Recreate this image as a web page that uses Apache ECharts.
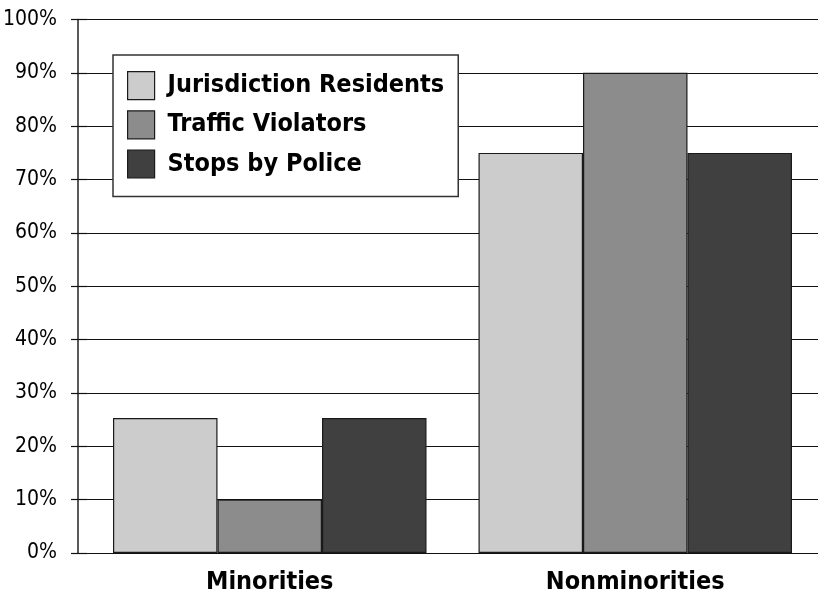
<!DOCTYPE html>
<html>
<head>
<meta charset="utf-8">
<script src="https://cdn.jsdelivr.net/npm/echarts@6/dist/echarts.min.js"></script>
<style>
html,body{margin:0;padding:0;background:#fff;}
#chart{width:818px;height:597px;}
</style>
</head>
<body>
<div id="chart"></div>
<script>
var categories = ['Minorities', 'Nonminorities'];
var seriesNames = ['Jurisdiction Residents', 'Traffic Violators', 'Stops by Police'];
var residents = [25.3, 75];
var violators = [10, 90];
var stops = [25.3, 75];
var colors = ['#cccccc', '#8c8c8c', '#404040'];
var FONT = "'Liberation Sans Narrow', 'DejaVu Sans Condensed', sans-serif";

var chart = echarts.init(document.getElementById('chart'));
var values = [residents, violators, stops];
var series = seriesNames.map(function (n, i) {
  return {
    name: n,
    type: 'bar',
    data: values[i],
    barWidth: 104.5,
    barGap: '0%',
    itemStyle: { color: colors[i], borderColor: '#1a1a1a', borderWidth: 1.2 },
    emphasis: { disabled: true }
  };
});

chart.setOption({
  animation: false,
  backgroundColor: '#ffffff',
  grid: { left: 87, right: 0, top: 19.5, bottom: 44, outerBoundsMode: 'none', containLabel: false },
  legend: {
    orient: 'vertical',
    left: 113,
    top: 55,
    itemWidth: 27,
    itemHeight: 28,
    itemGap: 10,
    padding: [16, 14, 18, 14],
    borderColor: '#333333',
    borderWidth: 1.5,
    backgroundColor: '#ffffff',
    textStyle: { fontFamily: FONT, fontWeight: 'bold', fontSize: 25, color: '#000', padding: [0, 0, 0, 8] },
    itemStyle: { borderColor: '#1a1a1a', borderWidth: 1.2 },
    data: seriesNames.map(function (n) { return { name: n, icon: 'rect' }; })
  },
  xAxis: {
    type: 'category',
    data: categories,
    axisLine: { show: true, lineStyle: { color: '#111', width: 1.2 } },
    axisTick: { show: false },
    axisLabel: { fontFamily: FONT, fontWeight: 'bold', fontSize: 25, color: '#000', margin: 17 }
  },
  yAxis: [{
    type: 'value',
    min: 0,
    max: 100,
    interval: 10,
    axisLine: { show: false },
    axisTick: { show: true, length: 16, lineStyle: { color: '#111', width: 1.2 } },
    axisLabel: { fontFamily: FONT, fontSize: 21, color: '#000', margin: 30, formatter: '{value}%' },
    splitLine: { show: true, lineStyle: { color: '#111', width: 1.2 } }
  }, {
    type: 'value',
    position: 'left',
    offset: 9,
    min: 0,
    max: 100,
    axisLine: { show: true, lineStyle: { color: '#222', width: 1.5 } },
    axisTick: { show: false },
    axisLabel: { show: false },
    splitLine: { show: false }
  }],
  series: series
});
</script>
</body>
</html>
